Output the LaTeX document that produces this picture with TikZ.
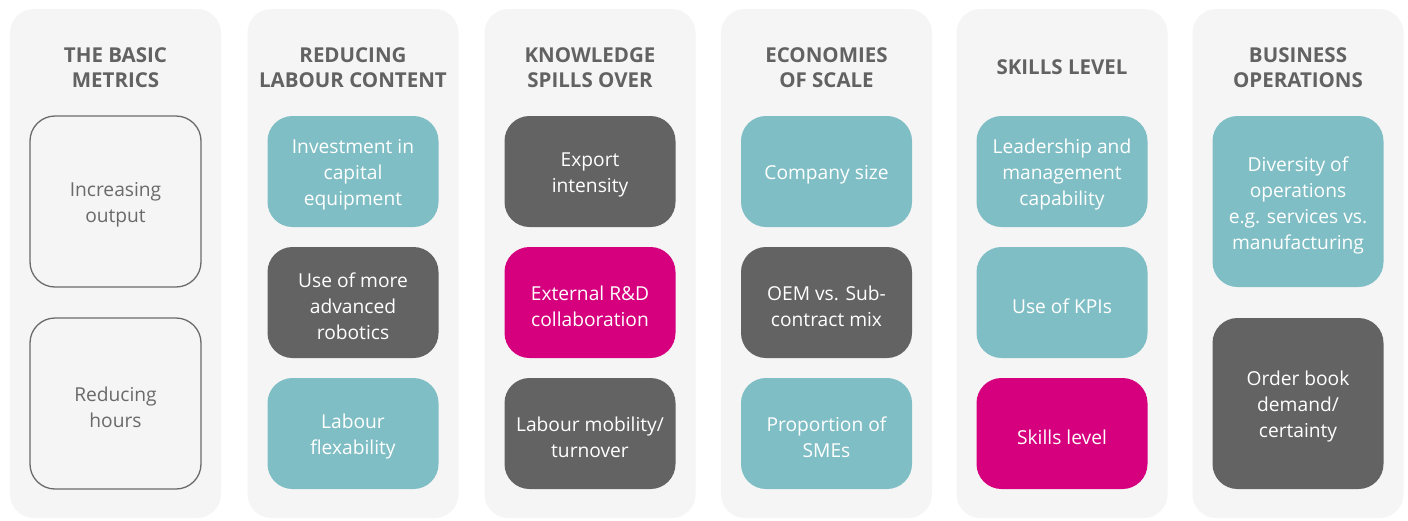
\documentclass[tikz,border=0pt]{standalone}
\usepackage{fontspec}
\setmainfont{Open Sans}
\definecolor{panelgray}{HTML}{F5F5F5}
\definecolor{tealc}{HTML}{7FBEC5}
\definecolor{darkc}{HTML}{636363}
\definecolor{pinkc}{HTML}{D6007F}
\definecolor{titlec}{HTML}{626262}
\definecolor{outlinec}{HTML}{6A6A6A}
\definecolor{outtext}{HTML}{6A6A6A}
\tikzset{
  panelbox/.style={fill=panelgray, draw=none, rounded corners=24pt, minimum width=211pt, minimum height=509pt, inner sep=0pt},
  titletxt/.style={text=titlec, align=center, font=\fontsize{20.5}{25}\selectfont\bfseries, inner sep=0pt},
  cardtext/.style={align=center, inner sep=0pt, yshift=-3.5pt, font=\fontsize{19.2}{26}\selectfont},
  cardbase/.style={rounded corners=25pt, minimum width=171pt, inner sep=0pt},
  tealbox/.style={cardbase, fill=tealc, minimum height=111pt, label={[cardtext, text=white]center:#1}},
  darkbox/.style={cardbase, fill=darkc, minimum height=111pt, label={[cardtext, text=white]center:#1}},
  pinkbox/.style={cardbase, fill=pinkc, minimum height=111pt, label={[cardtext, text=white]center:#1}},
  outlinebox/.style={cardbase, draw=outlinec, line width=1.3pt, minimum height=171pt, label={[cardtext, text=outtext]center:#1}},
  talltealbox/.style={cardbase, fill=tealc, minimum height=171pt, label={[cardtext, text=white]center:#1}},
  talldarkbox/.style={cardbase, fill=darkc, minimum height=171pt, label={[cardtext, text=white]center:#1}},
}
\begin{document}
\begin{tikzpicture}[x=1pt,y=-1pt]
\useasboundingbox (0,0) rectangle (1408,520);
\fill[white] (0,0) rectangle (1408,520);
% panels
\node[panelbox] (p1) at (115.5,263.5) {};
\node[panelbox] (p2) at (353,263.5) {};
\node[panelbox] (p3) at (590,263.5) {};
\node[panelbox] (p4) at (826.5,263.5) {};
\node[panelbox] (p5) at (1062,263.5) {};
\node[panelbox] (p6) at (1298,263.5) {};
% titles
\node[titletxt] (t1) at (115.5,67.5) {THE BASIC\\METRICS};
\node[titletxt] (t2) at (353,67.5) {REDUCING\\LABOUR CONTENT};
\node[titletxt] (t3) at (590,67.5) {KNOWLEDGE\\SPILLS OVER};
\node[titletxt] (t4) at (826.5,67.5) {ECONOMIES\\OF SCALE};
\node[titletxt] (t5) at (1062,67.5) {SKILLS LEVEL};
\node[titletxt] (t6) at (1298,67.5) {BUSINESS\\OPERATIONS};
% column 1
\node[outlinebox={Increasing\\output}] (a1) at (115.5,201.5) {};
\node[outlinebox={Reducing\\hours}] (a2) at (115.5,403.5) {};
% column 2
\node[tealbox={Investment in\\capital\\equipment}] (b1) at (353,171.5) {};
\node[darkbox={Use of more\\advanced\\robotics}] (b2) at (353,302.5) {};
\node[tealbox={Labour\\flexability}] (b3) at (353,433.5) {};
% column 3
\node[darkbox={Export\\intensity}] (c1) at (590,171.5) {};
\node[pinkbox={External R\&D\\collaboration}] (c2) at (590,302.5) {};
\node[darkbox={Labour mobility/\\turnover}] (c3) at (590,433.5) {};
% column 4
\node[tealbox={Company size}] (d1) at (826.5,171.5) {};
\node[darkbox={OEM vs. Sub-\\contract mix}] (d2) at (826.5,302.5) {};
\node[tealbox={Proportion of\\SMEs}] (d3) at (826.5,433.5) {};
% column 5
\node[tealbox={Leadership and\\management\\capability}] (e1) at (1062,171.5) {};
\node[tealbox={Use of KPIs}] (e2) at (1062,302.5) {};
\node[pinkbox={Skills level}] (e3) at (1062,433.5) {};
% column 6
\node[talltealbox={Diversity of\\operations\\e.g. services vs.\\manufacturing}] (f1) at (1298,201.5) {};
\node[talldarkbox={Order book\\demand/\\certainty}] (f2) at (1298,403.5) {};
\end{tikzpicture}
\end{document}
